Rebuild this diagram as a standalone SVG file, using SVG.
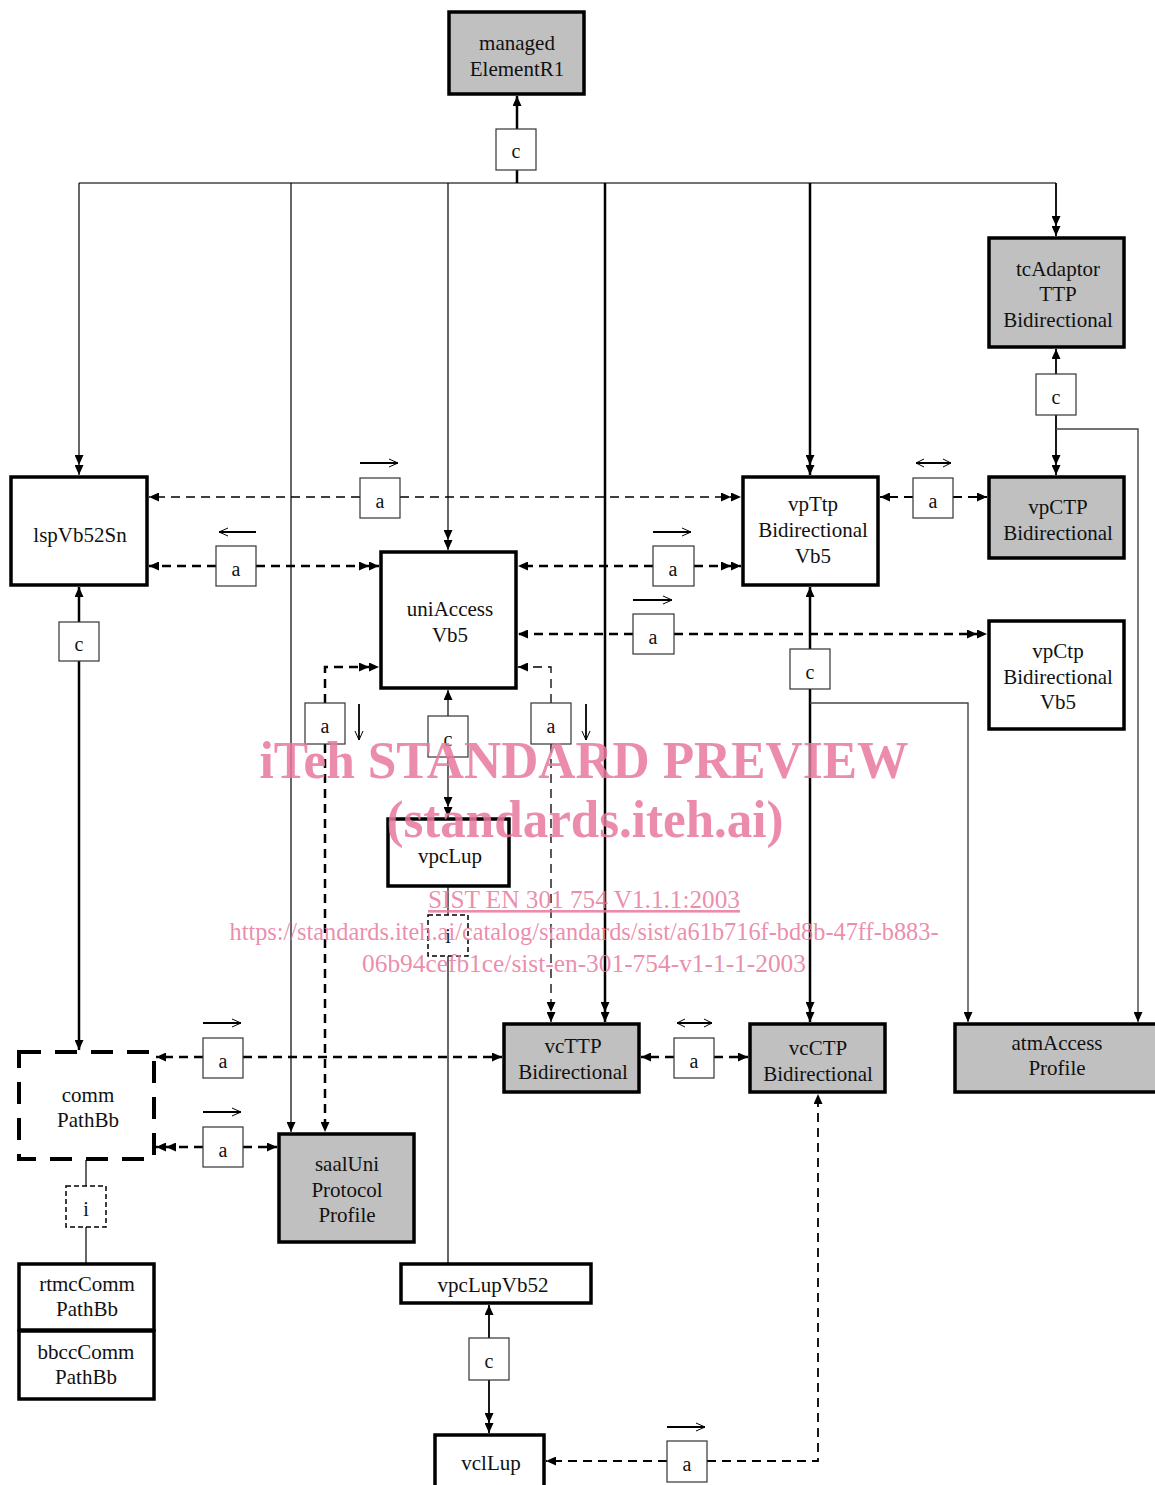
<svg xmlns="http://www.w3.org/2000/svg" width="1155" height="1485" viewBox="0 0 1155 1485">
<style>
.node rect{stroke:#000;stroke-width:3.5}
.w{fill:#fff}
.g{fill:#c0c0c0}
text{font-family:"Liberation Serif","Times New Roman",serif;fill:#111}
.nt{font-size:21px;text-anchor:middle}
.lb rect{fill:#fff;stroke:#333;stroke-width:1.2}
.lb text{font-size:20px;text-anchor:middle}
.ib rect{fill:#fff;stroke:#000;stroke-width:1.5;stroke-dasharray:5 3}
.cn path{fill:none;stroke:#000}
.t1{stroke-width:1.2}
.t2{stroke-width:1.8}
.t3{stroke-width:2.5}
.bus{stroke:#444 !important;stroke-width:1.4}
.d1{stroke-width:1.3;stroke-dasharray:9 6}
.d2{stroke-width:1.8;stroke-dasharray:9 6}
.d3{stroke-width:2.5;stroke-dasharray:9 6}
.dir path{fill:none;stroke:#000}
.dir .s{stroke-width:1.8}
.dir .h{stroke-width:1}
.wm text{fill:#e9789d;fill-opacity:0.85;text-anchor:middle}
</style>
<defs>
<marker id="ah" viewBox="0 0 10 9" refX="10" refY="4.5" markerWidth="10" markerHeight="9" orient="auto-start-reverse" markerUnits="userSpaceOnUse"><path d="M0,0 L10,4.5 L0,9z" fill="#000"/></marker>
<marker id="ah2" viewBox="0 0 20 9" refX="20" refY="4.5" markerWidth="20" markerHeight="9" orient="auto-start-reverse" markerUnits="userSpaceOnUse"><path d="M0,0 L10,4.5 L0,9z M10,0 L20,4.5 L10,9z" fill="#000"/></marker>
</defs>
<rect width="1155" height="1485" fill="#fff"/>

<g id="connectors" class="cn">
<path class="bus" d="M79 183 H1056"/>
<path class="t3" d="M517 183 V170"/>
<path class="t3" d="M517 129 V96" marker-end="url(#ah)"/>
<path class="t1" d="M79 183 V475" marker-end="url(#ah2)"/>
<path class="t1" d="M291 183 V1132" marker-end="url(#ah)"/>
<path class="t1" d="M448 183 V550" marker-end="url(#ah2)"/>
<path class="t3" d="M605 183 V1022" marker-end="url(#ah2)"/>
<path class="t3" d="M810 183 V475" marker-end="url(#ah2)"/>
<path class="t2" d="M1056 183 V236" marker-end="url(#ah2)"/>
<path class="t2" d="M1056 374 V349" marker-end="url(#ah)"/>
<path class="t2" d="M1056 415 V475" marker-end="url(#ah2)"/>
<path class="bus" d="M1056 429 H1138 V1022" marker-end="url(#ah)"/>
<path class="t3" d="M79 622 V587" marker-end="url(#ah)"/>
<path class="t3" d="M79 661 V1050" marker-end="url(#ah)"/>
<path class="t3" d="M810 649 V587" marker-end="url(#ah)"/>
<path class="t3" d="M810 689 V1022" marker-end="url(#ah2)"/>
<path class="bus" d="M810 703 H968 V1022" marker-end="url(#ah)"/>
<path class="t1" d="M448 716 V690" marker-end="url(#ah)"/>
<path class="t1" d="M448 757 V817" marker-end="url(#ah2)"/>
<path class="t1" d="M448 887 V915"/>
<path class="t1" d="M448 956 V1263"/>
<path class="t1" d="M86 1160 V1186"/>
<path class="t1" d="M86 1227 V1263"/>
<path class="t2" d="M489 1338 V1305" marker-end="url(#ah)"/>
<path class="t2" d="M489 1380 V1433" marker-end="url(#ah2)"/>

<path class="d1" d="M360 497 H149" marker-end="url(#ah)"/>
<path class="d1" d="M400 497 H741" marker-end="url(#ah2)"/>
<path class="d3" d="M216 566 H149" marker-end="url(#ah)"/>
<path class="d3" d="M256 566 H379" marker-end="url(#ah2)"/>
<path class="d3" d="M653 566 H518" marker-end="url(#ah)"/>
<path class="d3" d="M694 566 H741" marker-end="url(#ah2)"/>
<path class="d2" d="M913 497 H880" marker-end="url(#ah)"/>
<path class="d2" d="M953 497 H987" marker-end="url(#ah)"/>
<path class="d3" d="M633 634 H518" marker-end="url(#ah)"/>
<path class="d3" d="M674 634 H987" marker-end="url(#ah2)"/>
<path class="d3" d="M325 703 V667 H379" marker-end="url(#ah2)"/>
<path class="d3" d="M325 744 V1132" marker-end="url(#ah)"/>
<path class="d1" d="M551 703 V667 H518" marker-end="url(#ah)"/>
<path class="d1" d="M551 744 V1022" marker-end="url(#ah2)"/>
<path class="d3" d="M203 1057 H156" marker-end="url(#ah)"/>
<path class="d3" d="M243 1057 H502" marker-end="url(#ah)"/>
<path class="d3" d="M203 1147 H156" marker-end="url(#ah2)"/>
<path class="d3" d="M243 1147 H277" marker-end="url(#ah)"/>
<path class="d3" d="M674 1057 H641" marker-end="url(#ah)"/>
<path class="d3" d="M714 1057 H748" marker-end="url(#ah)"/>
<path class="d2" d="M667 1461 H546" marker-end="url(#ah)"/>
<path class="d2" d="M707 1461 H818 V1094" marker-end="url(#ah)"/>
</g>

<g id="labels">
<g class="lb"><rect x="496" y="129" width="40" height="41"/><text x="516" y="158">c</text></g>
<g class="lb"><rect x="1036" y="374" width="40" height="41"/><text x="1056" y="404">c</text></g>
<g class="lb"><rect x="360" y="478" width="40" height="40"/><text x="380" y="508">a</text></g>
<g class="lb"><rect x="216" y="546" width="40" height="40"/><text x="236" y="576">a</text></g>
<g class="lb"><rect x="653" y="546" width="41" height="40"/><text x="673" y="576">a</text></g>
<g class="lb"><rect x="913" y="478" width="40" height="40"/><text x="933" y="508">a</text></g>
<g class="lb"><rect x="633" y="614" width="41" height="40"/><text x="653" y="644">a</text></g>
<g class="lb"><rect x="59" y="622" width="40" height="39"/><text x="79" y="651">c</text></g>
<g class="lb"><rect x="790" y="649" width="40" height="40"/><text x="810" y="679">c</text></g>
<g class="lb"><rect x="305" y="703" width="40" height="41"/><text x="325" y="733">a</text></g>
<g class="lb"><rect x="428" y="716" width="40" height="41"/><text x="448" y="746">c</text></g>
<g class="lb"><rect x="531" y="703" width="40" height="41"/><text x="551" y="733">a</text></g>
<g class="ib"><rect x="428" y="915" width="40" height="41"/></g><text x="448" y="943" style="font-size:20px;text-anchor:middle">i</text>
<g class="lb"><rect x="203" y="1038" width="40" height="40"/><text x="223" y="1068">a</text></g>
<g class="lb"><rect x="203" y="1127" width="40" height="40"/><text x="223" y="1157">a</text></g>
<g class="lb"><rect x="674" y="1038" width="40" height="40"/><text x="694" y="1068">a</text></g>
<g class="ib"><rect x="66" y="1186" width="40" height="41"/></g><text x="86" y="1216" style="font-size:20px;text-anchor:middle">i</text>
<g class="lb"><rect x="469" y="1338" width="40" height="42"/><text x="489" y="1368">c</text></g>
<g class="lb"><rect x="667" y="1441" width="40" height="41"/><text x="687" y="1471">a</text></g>
</g>

<g id="direction-arrows" class="dir">
<path class="s" d="M360 463 H398"/><path class="h" d="M389 459 L398 463 L389 467"/>
<path class="s" d="M256 532 H219"/><path class="h" d="M228 528 L219 532 L228 536"/>
<path class="s" d="M653 532 H691"/><path class="h" d="M682 528 L691 532 L682 536"/>
<path class="s" d="M916 463 H951"/><path class="h" d="M924 459 L916 463 L924 467 M943 459 L951 463 L943 467"/>
<path class="s" d="M633 600 H672"/><path class="h" d="M663 596 L672 600 L663 604"/>
<path class="s" d="M359 704 V740"/><path class="h" d="M355 731 L359 740 L363 731"/>
<path class="s" d="M586 704 V740"/><path class="h" d="M582 731 L586 740 L590 731"/>
<path class="s" d="M203 1023 H241"/><path class="h" d="M232 1019 L241 1023 L232 1027"/>
<path class="s" d="M203 1112 H241"/><path class="h" d="M232 1108 L241 1112 L232 1116"/>
<path class="s" d="M677 1023 H712"/><path class="h" d="M685 1019 L677 1023 L685 1027 M704 1019 L712 1023 L704 1027"/>
<path class="s" d="M667 1427 H705"/><path class="h" d="M696 1423 L705 1427 L696 1431"/>
</g>

<g id="managedElementR1" class="node"><rect class="g" x="449" y="12" width="135" height="82"/><text class="nt" x="517" y="50">managed</text><text class="nt" x="517" y="76">ElementR1</text></g>
<g id="tcAdaptorTTPBidirectional" class="node"><rect class="g" x="989" y="238" width="135" height="109"/><text class="nt" x="1058" y="276">tcAdaptor</text><text class="nt" x="1058" y="301">TTP</text><text class="nt" x="1058" y="327">Bidirectional</text></g>
<g id="vpCTPBidirectional" class="node"><rect class="g" x="989" y="477" width="135" height="81"/><text class="nt" x="1058" y="514">vpCTP</text><text class="nt" x="1058" y="540">Bidirectional</text></g>
<g id="vpTtpBidirectionalVb5" class="node"><rect class="w" x="743" y="477" width="135" height="108"/><text class="nt" x="813" y="511">vpTtp</text><text class="nt" x="813" y="537">Bidirectional</text><text class="nt" x="813" y="563">Vb5</text></g>
<g id="lspVb52Sn" class="node"><rect class="w" x="11" y="477" width="136" height="108"/><text class="nt" x="80" y="542">lspVb52Sn</text></g>
<g id="uniAccessVb5" class="node"><rect class="w" x="381" y="552" width="135" height="136"/><text class="nt" x="450" y="616">uniAccess</text><text class="nt" x="450" y="642">Vb5</text></g>
<g id="vpCtpBidirectionalVb5" class="node"><rect class="w" x="989" y="621" width="135" height="108"/><text class="nt" x="1058" y="658">vpCtp</text><text class="nt" x="1058" y="684">Bidirectional</text><text class="nt" x="1058" y="709">Vb5</text></g>
<g id="vpcLup" class="node"><rect class="w" x="388" y="819" width="121" height="67"/><text class="nt" x="450" y="863">vpcLup</text></g>
<g id="vcTTPBidirectional" class="node"><rect class="g" x="504" y="1024" width="135" height="68"/><text class="nt" x="573" y="1053">vcTTP</text><text class="nt" x="573" y="1079">Bidirectional</text></g>
<g id="vcCTPBidirectional" class="node"><rect class="g" x="750" y="1024" width="135" height="68"/><text class="nt" x="818" y="1055">vcCTP</text><text class="nt" x="818" y="1081">Bidirectional</text></g>
<g id="atmAccessProfile" class="node"><rect class="g" x="955" y="1024" width="205" height="68"/><text class="nt" x="1057" y="1050">atmAccess</text><text class="nt" x="1057" y="1075">Profile</text></g>
<g id="saalUniProtocolProfile" class="node"><rect class="g" x="279" y="1134" width="135" height="108"/><text class="nt" x="347" y="1171">saalUni</text><text class="nt" x="347" y="1197">Protocol</text><text class="nt" x="347" y="1222">Profile</text></g>
<g id="commPathBb" class="node"><rect class="w" x="19" y="1052" width="135" height="107" style="stroke-width:4;stroke-dasharray:22 14"/><text class="nt" x="88" y="1102">comm</text><text class="nt" x="88" y="1127">PathBb</text></g>
<g id="rtmcCommPathBb" class="node"><rect class="w" x="19" y="1264" width="135" height="66"/><text class="nt" x="87" y="1291">rtmcComm</text><text class="nt" x="87" y="1316">PathBb</text></g>
<g id="bbccCommPathBb" class="node"><rect class="w" x="19" y="1331" width="135" height="68"/><text class="nt" x="86" y="1359">bbccComm</text><text class="nt" x="86" y="1384">PathBb</text></g>
<g id="vpcLupVb52" class="node"><rect class="w" x="401" y="1264" width="190" height="39"/><text class="nt" x="493" y="1292">vpcLupVb52</text></g>
<g id="vclLup" class="node"><rect class="w" x="435" y="1435" width="109" height="60"/><text class="nt" x="491" y="1470">vclLup</text></g>

<g id="watermark" class="wm">
<text x="584" y="778" style="font-size:52px;font-weight:bold" textLength="649" lengthAdjust="spacingAndGlyphs">iTeh STANDARD PREVIEW</text>
<text x="585" y="837" style="font-size:52px;font-weight:bold" textLength="397" lengthAdjust="spacingAndGlyphs">(standards.iteh.ai)</text>
<text x="584" y="908" style="font-size:26px;text-decoration:underline" textLength="312" lengthAdjust="spacingAndGlyphs">SIST EN 301 754 V1.1.1:2003</text>
<text x="584" y="940" style="font-size:26px" textLength="709" lengthAdjust="spacingAndGlyphs">https://standards.iteh.ai/catalog/standards/sist/a61b716f-bd8b-47ff-b883-</text>
<text x="584" y="972" style="font-size:26px" textLength="444" lengthAdjust="spacingAndGlyphs">06b94cefb1ce/sist-en-301-754-v1-1-1-2003</text>
</g>
</svg>
